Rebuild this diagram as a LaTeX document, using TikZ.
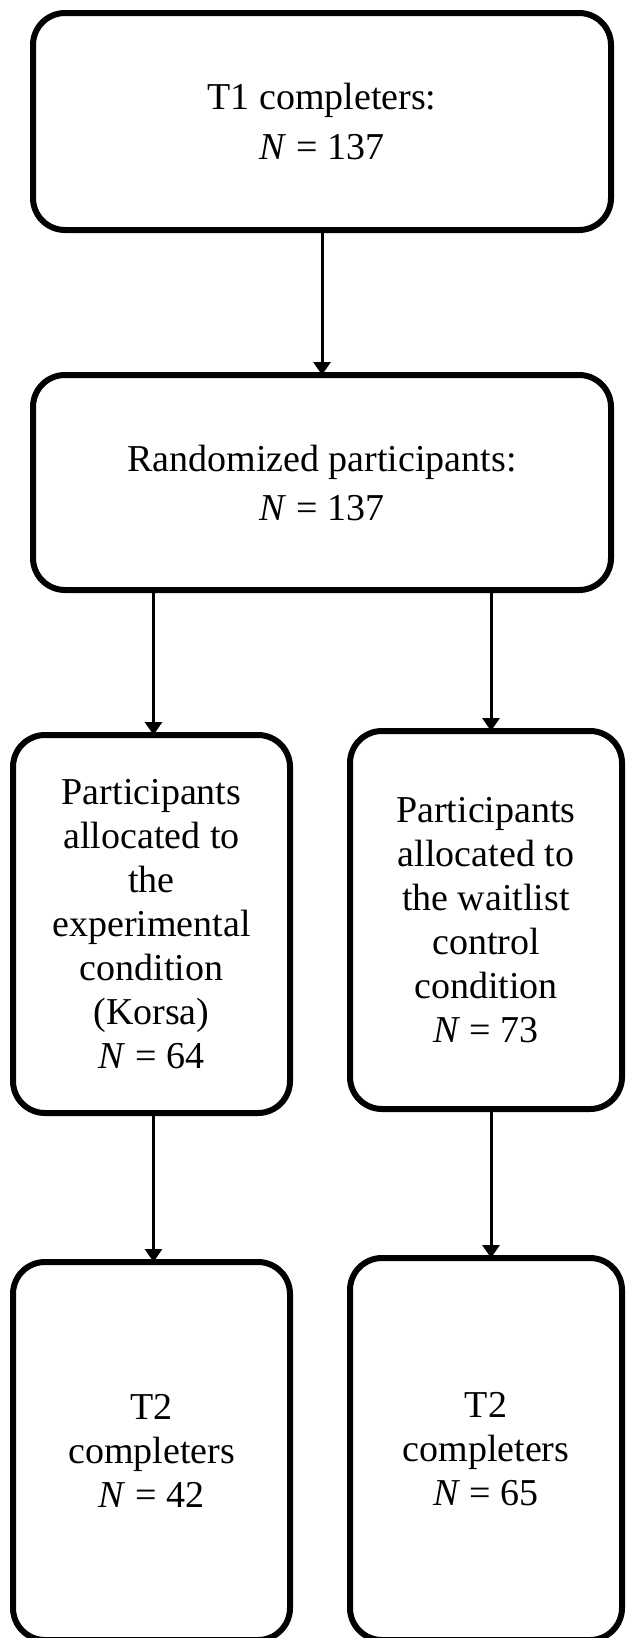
\documentclass[tikz,border=0pt]{standalone}
\usepackage{fontspec}
\setmainfont{Liberation Serif}
\usetikzlibrary{arrows.meta}

\begin{document}
\begin{tikzpicture}[x=1pt, y=-1pt,
>={Triangle[width=17pt, length=13pt]},
box/.style={draw, line width=6pt, rounded corners=32pt, inner sep=0pt, align=center, font=\fontsize{38}{49}\selectfont},
widebox/.style={box, minimum width=578pt},
tallbox/.style={box, minimum height=378pt, font=\fontsize{38}{44}\selectfont},
flow/.style={->, line width=3pt},
]
%%%%%%%%% SIZE OF THE PAGE %%%%%%%%%
\useasboundingbox (0,0) rectangle (625,1638);

%%%%%%%%% BOXES %%%%%%%%%
\node[widebox, minimum height=217pt] (t1) at (322,121.5) {T1 completers:\\ \textit{N} = 137};
\node[widebox, minimum height=215pt] (rand) at (322,482.5) {Randomized participants:\\ \textit{N} = 137};
\node[tallbox, minimum width=277pt] (exp) at (151.5,924) {Participants\\ allocated to\\ the\\ experimental\\ condition\\ (Korsa)\\ \textit{N} = 64};
\node[tallbox, minimum width=272pt] (wait) at (486,920) {Participants\\ allocated to\\ the waitlist\\ control\\ condition\\ \textit{N} = 73};
\node[tallbox, minimum width=277pt] (t2exp) at (151.5,1451) {T2\\ completers\\ \textit{N} = 42};
\node[tallbox, minimum width=272pt, minimum height=382pt] (t2wait) at (486,1449) {T2\\ completers\\ \textit{N} = 65};

%%%%%%%%% ARROWS %%%%%%%%%
\draw[flow] (t1.south) -- ([yshift=-3pt]rand.north);
\draw[flow] ([xshift=2pt]rand.south -| exp.north) -- ([xshift=2pt, yshift=-3pt]exp.north);
\draw[flow] ([xshift=5pt]rand.south -| wait.north) -- ([xshift=5pt, yshift=-3pt]wait.north);
\draw[flow] ([xshift=2pt]exp.south) -- ([xshift=2pt, yshift=-3pt]t2exp.north);
\draw[flow] ([xshift=5pt]wait.south) -- ([xshift=5pt, yshift=-3pt]t2wait.north);
\end{tikzpicture}
\end{document}
